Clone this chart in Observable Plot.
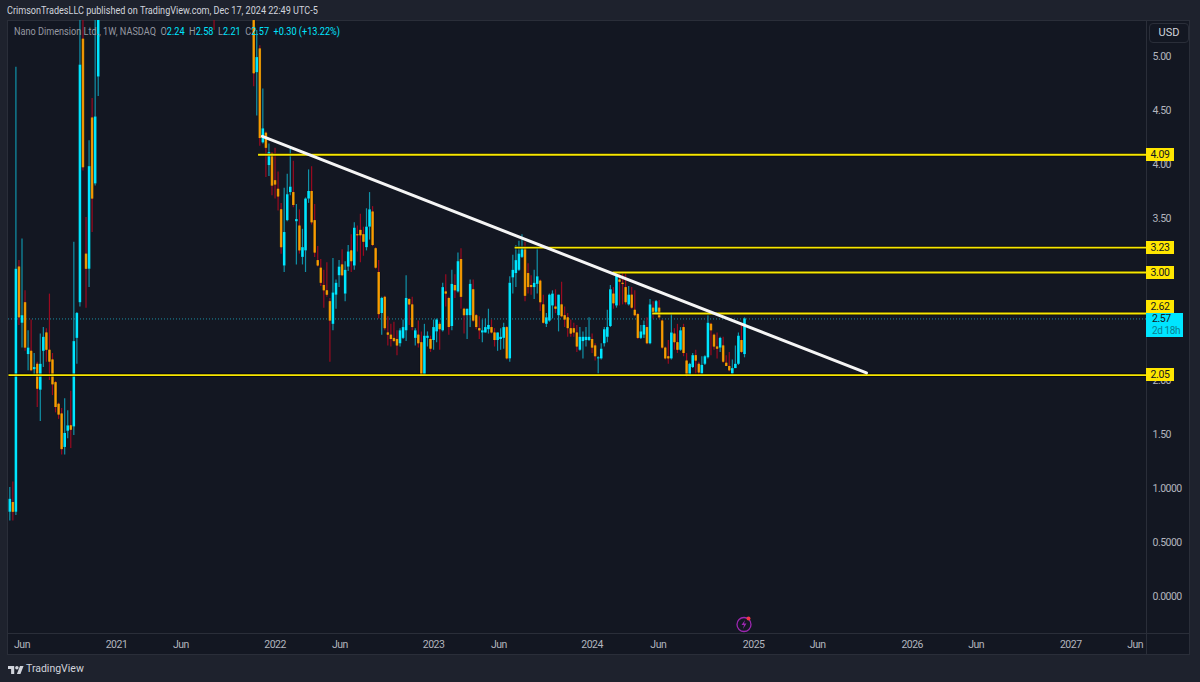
<!DOCTYPE html>
<html><head><meta charset="utf-8">
<script src="https://cdn.jsdelivr.net/npm/d3@7"></script>
<script src="https://cdn.jsdelivr.net/npm/@observablehq/plot@0.6"></script>
<style>
html,body{margin:0;padding:0;background:#1e222d;width:1200px;height:682px;overflow:hidden;font-family:Roboto,sans-serif}
#stage{position:relative;width:1200px;height:682px}
#panel{position:absolute;left:7px;top:20px;width:1183px;height:635px;background:#131722;border:1px solid #2a2e39;box-sizing:border-box}
#pa{position:absolute;left:1146px;top:20px;width:1px;height:635px;background:#2a2e39}
#ta{position:absolute;left:7px;top:633px;width:1183px;height:1px;background:#2a2e39}
#head{position:absolute;left:7px;top:4px;font-size:10.5px;color:#d1d4dc;white-space:nowrap;transform:scaleX(.864);transform-origin:left center}
#legend{position:absolute;left:13.5px;top:25px;font-size:10.5px;color:#9598a1;white-space:nowrap;transform:scaleX(.87);transform-origin:left center}
#legend b{font-weight:400;color:#00e5ff}
#usd{position:absolute;left:1149px;top:23px;width:40px;height:20px;border:1px solid #2a2e39;border-radius:4px;box-sizing:border-box;color:#d1d4dc;font-size:11px;text-align:center;line-height:18px}
#logo{position:absolute;left:8px;top:662px;color:#d1d4dc;font-size:10.5px;display:flex;align-items:center;gap:2px}
#bolt{position:absolute;left:735px;top:615px}
.tag{position:absolute;left:1146px;width:28px;height:13px;line-height:13px;background:#ffe600;color:#131722;font-size:10.5px;letter-spacing:-.4px;text-align:center;box-sizing:border-box}
.now{width:37px;height:24px;background:#00e5ff;color:#131722;text-align:left;padding-left:6px;line-height:12px;white-space:nowrap}
.now span{color:#0a7f91;display:block;font-size:10px}
</style></head><body>
<div id="stage">
<div id="panel"></div><div id="pa"></div><div id="ta"></div>
<div id="head">CrimsonTradesLLC published on TradingView.com, Dec 17, 2024 22:49 UTC-5</div>
<div id="usd">USD</div>
<div id="logo"><svg width="16" height="10" viewBox="0 0 36 22"><path fill="#d1d4dc" d="M14 22H7V11H0V4h14v18zM28 22h-8l7-18h8l-7 18z"/><circle cx="20" cy="8" r="4" fill="#d1d4dc"/></svg><span>TradingView</span></div>
</div>
<script>
// Weekly bars, first one on the week of 4 May 2020. Weeks wholly above the visible range are null.
const firstWeek = new Date(Date.UTC(2020, 4, 4));
const gapA = Array(37).fill(null);
const gapB = Array(12).fill(null);

const open = [
.78,.87,.78,3.05,2.53,2.72,2.24,2.27,2.10,2.15,
1.91,2.27,2.44,2.28,2.19,1.98,1.78,1.69,1.38,1.53,
1.58,1.57,2.39,2.72,5.16,3.17,3.03,4.43,3.82,4.81,
...gapA,6.20,...gapB,
5.60,4.85,5.07,4.20,4.29,3.99,4.10,3.85,3.77,3.58,
3.06,3.48,3.74,3.74,3.47,3.43,3.14,3.20,3.68,3.75,
3.48,3.11,3.04,2.88,2.83,2.73,2.52,2.79,2.97,3.07,
2.80,3.05,3.20,3.06,3.35,3.39,3.35,3.23,3.42,3.56,
3.22,3.00,2.62,2.77,2.44,2.42,2.39,2.38,2.34,2.39,
2.46,2.75,2.70,2.39,2.42,2.35,2.05,2.39,2.38,2.37,
2.45,2.52,2.46,2.82,2.76,2.50,2.88,2.82,3.12,2.66,
2.60,2.60,2.84,2.60,2.48,2.44,2.44,2.47,2.49,2.44,
2.37,2.38,2.39,2.49,2.20,2.95,2.99,3.02,3.14,3.22,
2.99,2.88,2.86,2.89,2.92,2.70,2.52,2.55,2.69,2.68,
2.60,2.70,2.60,2.58,2.48,2.48,2.44,2.28,2.36,2.37,
2.37,2.38,2.32,2.20,2.20,2.34,2.40,2.50,2.80,2.69,
2.93,2.90,2.86,2.70,2.79,2.65,2.61,2.39,2.42,2.49,
2.34,2.67,2.62,2.67,2.55,2.30,2.22,2.20,2.43,2.35,
2.28,2.49,2.18,2.05,2.12,2.23,2.15,2.06,2.15,2.21,
2.52,2.42,2.31,2.30,2.32,2.16,2.13,2.06,2.11,2.15,2.37,2.24];

const high = [
1.01,1.06,4.90,3.11,3.31,2.83,2.46,2.56,2.25,2.17,
2.43,2.49,2.48,2.80,2.25,1.99,1.79,1.74,1.83,1.72,
1.90,3.28,2.63,5.60,5.50,3.51,4.22,4.61,5.45,6.20,
...gapA,6.50,...gapB,
6.00,5.24,5.10,4.70,4.30,4.19,4.11,4.15,3.93,3.64,
3.78,3.91,4.16,4.03,3.63,3.58,3.40,3.69,3.95,3.98,
3.63,3.24,3.12,3.02,3.09,2.76,3.13,2.93,3.11,3.21,
3.10,3.25,3.35,3.46,3.43,3.54,3.42,3.59,3.74,3.61,
3.23,3.11,2.77,2.78,2.59,2.52,2.54,2.46,2.48,2.56,
2.97,2.76,2.77,2.48,2.55,2.45,2.52,2.45,2.41,2.56,
2.57,2.54,2.90,2.98,2.77,3.02,2.98,3.18,3.22,2.67,
2.66,2.93,2.93,2.61,2.59,2.56,2.57,2.66,2.56,2.48,
2.44,2.48,2.53,2.50,2.96,3.16,3.25,3.29,3.35,3.28,
3.08,2.97,3.02,3.23,2.93,2.79,2.62,2.80,2.83,2.84,
2.79,2.91,2.68,2.62,2.56,2.53,2.51,2.49,2.45,2.49,
2.58,2.43,2.34,2.22,2.34,2.49,2.65,2.88,2.86,2.99,
3.00,2.99,2.99,2.87,2.86,2.83,2.62,2.51,2.55,2.58,
2.75,2.73,2.74,2.74,2.56,2.31,2.37,2.62,2.48,2.52,
2.49,2.52,2.25,2.16,2.25,2.28,2.17,2.22,2.23,2.60,
2.53,2.43,2.44,2.40,2.40,2.23,2.26,2.19,2.32,2.44,2.51,2.58];

const low = [
.70,.70,.75,2.51,2.30,2.27,2.09,2.08,2.05,1.75,
1.62,2.12,2.17,2.00,1.86,1.70,1.64,1.31,1.31,1.46,
1.37,1.49,2.15,2.68,3.94,2.67,2.86,3.37,3.80,4.63,
...gapA,5.24,...gapB,
4.72,4.45,4.17,4.19,3.88,3.89,3.71,3.68,3.57,3.17,
3.00,3.47,3.71,3.60,3.07,3.17,3.07,3.00,3.64,3.44,
3.14,3.05,2.87,2.67,2.77,2.17,2.46,2.66,2.86,2.96,
2.73,3.01,3.00,3.02,3.19,3.09,3.15,3.20,3.30,3.24,
3.03,2.57,2.42,2.46,2.32,2.31,2.35,2.23,2.31,2.38,
2.36,2.51,2.46,2.32,2.30,2.04,2.04,2.31,2.26,2.28,
2.35,2.28,2.45,2.68,2.42,2.46,2.76,2.81,2.66,2.43,
2.38,2.49,2.54,2.47,2.38,2.35,2.44,2.43,2.43,2.31,
2.27,2.28,2.29,2.19,2.17,2.80,2.86,3.01,3.13,2.73,
2.80,2.79,2.75,2.80,2.64,2.52,2.49,2.54,2.57,2.62,
2.45,2.58,2.49,2.40,2.40,2.40,2.26,2.27,2.20,2.31,
2.36,2.25,2.18,2.06,2.19,2.31,2.35,2.49,2.66,2.67,
2.69,2.70,2.70,2.69,2.66,2.59,2.38,2.38,2.39,2.33,
2.33,2.57,2.62,2.57,2.29,2.19,2.15,2.19,2.28,2.25,
2.27,2.22,2.03,2.04,2.11,2.06,2.04,2.06,2.14,2.20,
2.23,2.28,2.20,2.26,2.16,2.13,2.08,2.05,2.11,2.14,2.25,2.21];

const close = [
.90,.78,3.03,2.58,2.60,2.30,2.30,2.09,2.12,1.92,
2.15,2.40,2.28,2.17,1.96,1.75,1.68,1.36,1.51,1.58,
1.54,2.36,2.62,4.92,3.97,3.03,3.98,3.68,4.44,5.90,
...gapA,5.80,...gapB,
4.84,4.99,4.24,4.33,4.15,4.11,3.80,3.81,3.70,3.23,
3.37,3.72,3.79,3.62,3.49,3.20,3.23,3.68,3.75,3.46,
3.18,3.06,2.90,2.83,2.79,2.55,2.81,2.90,3.05,2.97,
3.02,3.19,3.10,3.41,3.34,3.34,3.28,3.42,3.58,3.25,
3.04,2.61,2.76,2.48,2.42,2.38,2.36,2.32,2.46,2.49,
2.76,2.70,2.49,2.46,2.34,2.05,2.41,2.41,2.29,2.49,
2.56,2.47,2.86,2.80,2.49,2.89,2.83,3.10,2.77,2.60,
2.66,2.89,2.55,2.49,2.46,2.46,2.49,2.51,2.44,2.37,
2.44,2.40,2.49,2.20,2.90,3.02,3.11,3.17,3.22,2.78,
2.86,2.86,2.90,2.96,2.72,2.53,2.58,2.79,2.80,2.66,
2.79,2.59,2.56,2.48,2.43,2.44,2.31,2.40,2.40,2.40,
2.40,2.30,2.22,2.21,2.29,2.47,2.49,2.84,2.71,2.97,
2.91,2.89,2.72,2.79,2.67,2.60,2.39,2.45,2.51,2.34,
2.70,2.63,2.73,2.58,2.30,2.20,2.20,2.44,2.35,2.28,
2.46,2.25,2.04,2.15,2.23,2.18,2.07,2.14,2.22,2.53,
2.46,2.31,2.29,2.39,2.17,2.13,2.09,2.11,2.15,2.41,2.26,2.57];

// Horizontal levels and where each one starts
const levelPrices = [4.09, 3.23, 3.00, 2.62, 2.05];
const levelStarts = ["2021-11-25", "2023-07-07", "2024-02-17", "2024-05-18", "2020-05-01"];
const lastPrice = 2.57;
const countdown = "2d 18h";
// Descending trend line
const trendDates = ["2021-12-05", "2025-09-22"];
const trendPrices = [4.26, 2.07];
// Axes
const priceTicks = [5, 4.5, 4, 3.5, 2, 1.5, 1, 0.5, 0];
const priceTickLabels = ["5.00","4.50","4.00","3.50","2.00","1.50","1.0000","0.5000","0.0000"];
const timeTickDates = ["2020-06-01","2021-01-04","2021-06-01","2022-01-03","2022-06-01","2023-01-02","2023-06-01","2024-01-01","2024-06-01","2025-01-06","2025-06-02","2026-01-05","2026-06-01","2027-01-04","2027-06-01"];
const timeTickLabels = ["Jun","2021","Jun","2022","Jun","2023","Jun","2024","Jun","2025","Jun","2026","Jun","2027","Jun"];
const legendName = "Nano Dimension Ltd., 1W, NASDAQ";
const legendValues = ["2.24","2.58","2.21","2.57","+0.30 (+13.22%)"];

const day = s => new Date(s + "T00:00:00Z");
const bars = open.map((o, i) => ({date: d3.utcDay.offset(firstWeek, 7 * i), open: o, high: high[i], low: low[i], close: close[i]}))
  .filter(d => d.open != null);
const up = bars.filter(d => d.close >= d.open);
const down = bars.filter(d => d.close < d.open);
const levels = levelPrices.map((p, i) => ({price: p, start: day(levelStarts[i])}));
const trend = trendDates.map((d, i) => ({date: day(d), price: trendPrices[i]}));
const xEnd = day("2027-06-27");
const tickDates = timeTickDates.map(day);

const chart = Plot.plot({
  width: 1200, height: 682,
  marginLeft: 8, marginRight: 54, marginTop: 20, marginBottom: 50,
  style: {background: "transparent", fontFamily: "Roboto, sans-serif", fontSize: "10.5px", letterSpacing: "-0.5px", position: "absolute", left: "0px", top: "0px"},
  x: {type: "utc", domain: [day("2020-05-01"), xEnd], label: null},
  y: {domain: [-1/3, 16/3], label: null},
  marks: [
    Plot.ruleY([lastPrice], {stroke: "#1b8ea3", strokeDasharray: "1,2", strokeWidth: 1}),
    Plot.ruleX(down, {x: "date", y1: "low", y2: "high", stroke: "#9a0a20", strokeWidth: 1.2, clip: true}),
    Plot.ruleX(up, {x: "date", y1: "low", y2: "high", stroke: "#1092a9", strokeWidth: 1.2, clip: true}),
    Plot.ruleX(bars, {x: "date", y1: "open", y2: "close", stroke: "#000", strokeOpacity: .4, strokeWidth: 3.6, clip: true}),
    Plot.ruleX(down, {x: "date", y1: "open", y2: "close", stroke: "#b98a0c", strokeWidth: 2.6, clip: true}),
    Plot.ruleX(down, {x: "date", y1: "open", y2: "close", stroke: "#ff9800", strokeWidth: 1.5, clip: true}),
    Plot.ruleX(up, {x: "date", y1: "open", y2: "close", stroke: "#00e5ff", strokeWidth: 2.6, clip: true}),
    Plot.link(levels, {x1: "start", x2: () => xEnd, y1: "price", y2: "price", stroke: "#000", strokeOpacity: .55, strokeWidth: 3.6}),
    Plot.link(levels, {x1: "start", x2: () => xEnd, y1: "price", y2: "price", stroke: "#f7e600", strokeWidth: 1.9}),
    Plot.line(trend, {x: "date", y: "price", stroke: "#f5f5f5", strokeWidth: 3}),
    Plot.axisY({anchor: "right", ticks: priceTicks, tickSize: 0, tickPadding: 6, textAnchor: "start", fill: "#b2b5be", label: null,
      tickFormat: v => priceTickLabels[priceTicks.indexOf(v)]}),
    Plot.axisX({ticks: tickDates, tickSize: 0, tickPadding: 8, fill: "#b2b5be", label: null,
      tickFormat: v => timeTickLabels[tickDates.findIndex(d => +d === +v)]})
  ]
});
const stage = document.getElementById("stage");
stage.insertBefore(chart, document.getElementById("head"));

const yPx = chart.scale("y").apply;

// Legend line
const lg = document.createElement("div");
lg.id = "legend";
lg.innerHTML = legendName + "&nbsp;&nbsp;O<b>" + legendValues[0] + "</b>&nbsp;&nbsp;H<b>" + legendValues[1] + "</b>&nbsp;&nbsp;L<b>" + legendValues[2] + "</b>&nbsp;&nbsp;C<b>" + legendValues[3] + "</b>&nbsp;&nbsp;<b>" + legendValues[4] + "</b>";
stage.appendChild(lg);

// Price tags on the axis
levelPrices.forEach(p => {
  const t = document.createElement("div");
  t.className = "tag";
  t.textContent = p.toFixed(2);
  t.style.top = (yPx(p) - 6.5 - (p === 2.62 ? 7 : 0)) + "px";
  stage.appendChild(t);
});
const now = document.createElement("div");
now.className = "tag now";
now.innerHTML = lastPrice.toFixed(2) + "<span>" + countdown + "</span>";
now.style.top = (yPx(lastPrice) - 5.5) + "px";
stage.appendChild(now);

// Notification icon under the last bar
const bolt = document.createElement("div");
bolt.id = "bolt";
bolt.innerHTML = '<svg width="18" height="18" viewBox="0 0 18 18"><circle cx="9" cy="9.5" r="7" fill="none" stroke="#9c27b0" stroke-width="1.3"/><path d="M10 5L6.5 10H9L8 14L11.5 8.5H9z" fill="#9c27b0"/><circle cx="13.5" cy="3.5" r="2" fill="#f23645"/></svg>';
stage.appendChild(bolt);
</script>
</body></html>
